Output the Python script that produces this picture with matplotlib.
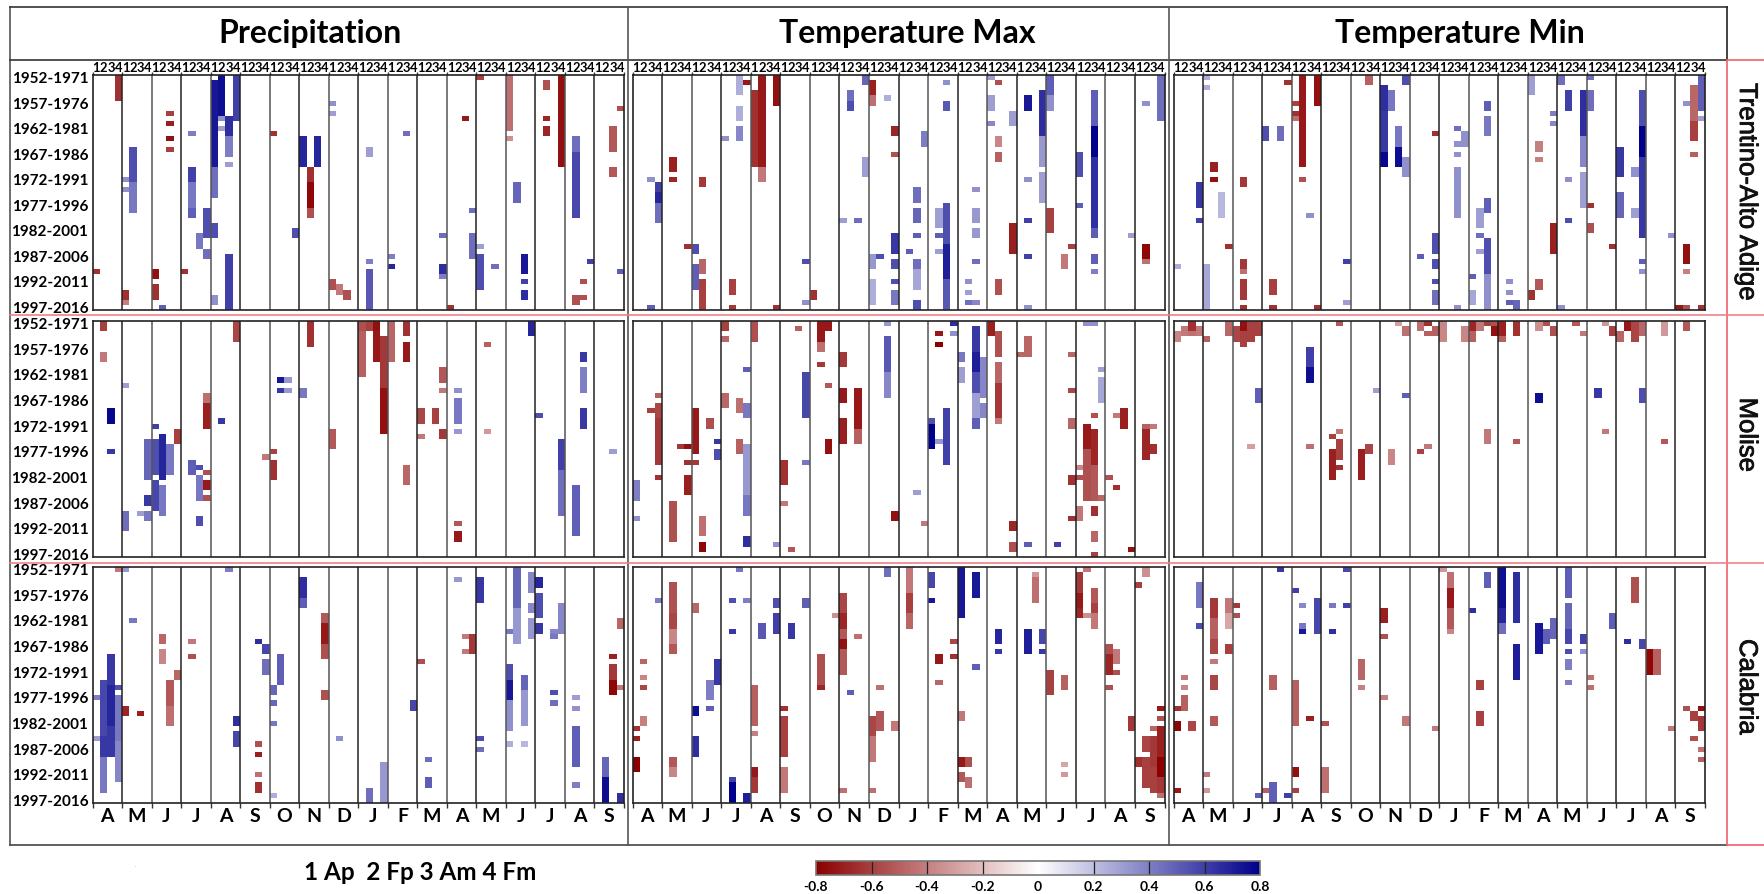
import numpy as np
import matplotlib
matplotlib.use("Agg")
import matplotlib.pyplot as plt
import matplotlib.patheffects as pe
from matplotlib.colors import LinearSegmentedColormap
from matplotlib.lines import Line2D

# each run: week column (0-71), first row, last row, correlation value
windows = ["1952-1971", "1957-1976", "1962-1981", "1967-1986", "1972-1991",
           "1977-1996", "1982-2001", "1987-2006", "1992-2011", "1997-2016"]
months = ["A", "M", "J", "J", "A", "S", "O", "N", "D", "J", "F", "M", "A", "M", "J", "J", "A", "S"]
variables = ["Precipitation", "Temperature Max", "Temperature Min"]
regions = ["Trentino-Alto Adige", "Molise", "Calabria"]
cbar_ticks = [-0.8, -0.6, -0.4, -0.2, 0, 0.2, 0.4, 0.6, 0.8]
cbar_labels = ["-0.8", "-0.6", "-0.4", "-0.2", "0", "0.2", "0.4", "0.6", "0.8"]

trentino_prec = [
    (3, 0, 4, -.65), (5, 14, 20, .55), (5, 21, 26, .42), (4, 20, 20, .35), (4, 22, 22, .35),
    (10, 7, 7, -.6), (10, 9, 9, -.7), (10, 12, 12, -.75), (10, 14, 14, -.6),
    (13, 11, 11, .4), (13, 18, 20, .6), (13, 21, 25, .42), (13, 26, 27, .5), (15, 26, 31, .55), (15, 34, 35, .45), (14, 31, 33, .42),
    (16, 1, 11, .72), (16, 12, 17, .72), (16, 18, 23, .45), (16, 29, 31, .55), (16, 43, 44, .35),
    (17, 0, 7, .75), (17, 8, 8, .35), (17, 10, 10, .3), (18, 8, 11, .65), (18, 12, 15, .4), (18, 17, 17, .3), (18, 35, 45, .6), (19, 0, 8, .6),
    (0, 38, 38, -.65), (8, 38, 39, -.75), (8, 41, 43, -.65), (12, 38, 38, -.65),
    (4, 42, 43, -.65), (4, 44, 44, -.4), (9, 45, 45, .5), (24, 11, 11, -.65), (27, 30, 31, .55),
    (28, 12, 17, .68), (30, 12, 17, .68), (29, 18, 20, -.65), (29, 21, 25, -.78), (29, 26, 27, -.55),
    (32, 5, 5, .35), (32, 7, 7, .3), (32, 40, 41, -.55), (33, 41, 42, -.42), (34, 42, 43, -.55),
    (37, 14, 15, .3), (37, 36, 36, .4), (37, 38, 45, .52), (40, 35, 35, .4), (40, 37, 37, .68), (42, 11, 11, .45),
    (47, 31, 31, .45), (47, 37, 38, .65), (47, 39, 39, .4), (48, 45, 45, -.65), (50, 8, 8, -.72),
    (51, 26, 26, .45), (51, 31, 35, .45), (52, 0, 0, -.6), (52, 33, 33, .3), (52, 35, 41, .55), (54, 37, 37, .45),
    (56, 0, 10, -.45), (56, 12, 12, -.35), (57, 21, 24, .48), (58, 35, 38, .72), (58, 40, 40, .6), (58, 42, 43, .65),
    (61, 1, 2, -.55), (61, 8, 8, -.68), (61, 10, 11, -.68), (63, 0, 17, -.75),
    (65, 12, 14, .45), (65, 15, 27, .58), (65, 43, 44, -.55), (66, 43, 43, -.55), (66, 40, 40, -.55), (67, 36, 36, .6),
    (71, 6, 6, -.55), (71, 38, 38, .5), (70, 10, 14, -.52), (70, 18, 19, -.52),
]
trentino_tmax = [
    (2, 20, 20, .35), (2, 45, 45, .5), (3, 21, 22, .6), (3, 23, 24, .68), (3, 25, 28, .45),
    (5, 16, 18, -.7), (5, 20, 20, -.68), (7, 33, 33, -.65), (8, 33, 34, .55), (8, 37, 41, .5),
    (9, 20, 21, -.62), (9, 36, 38, -.48), (9, 40, 45, -.6), (12, 12, 12, .35), (13, 40, 42, -.6), (13, 45, 45, -.62),
    (14, 0, 3, .25), (14, 6, 8, .25), (14, 10, 12, .38), (15, 1, 1, -.72), (16, 3, 17, -.65), (17, 0, 17, -.72), (17, 18, 20, -.42),
    (19, 0, 5, -.75), (19, 45, 45, -.65), (23, 36, 36, .55), (23, 44, 44, .35), (24, 42, 43, -.65), (28, 28, 28, .3),
    (29, 3, 4, .45), (29, 5, 6, .55), (30, 28, 28, .45), (31, 0, 1, .48), (31, 16, 19, .3),
    (32, 1, 3, -.7), (32, 4, 5, -.45), (32, 35, 37, .32), (32, 40, 44, .25), (33, 35, 35, .55), (34, 4, 4, .25),
    (35, 10, 11, -.68), (35, 15, 15, -.55), (35, 31, 34, .62), (35, 36, 37, .55), (35, 40, 40, .55), (35, 42, 44, .42),
    (37, 34, 34, .5), (38, 22, 24, .45), (38, 26, 28, .48), (38, 31, 31, .5), (38, 36, 37, .45), (38, 38, 41, .28), (38, 44, 45, .55),
    (39, 11, 13, .4), (41, 26, 29, .3), (41, 31, 31, .5), (41, 34, 34, .3), (42, 1, 1, .35), (42, 5, 6, .52),
    (42, 25, 32, .55), (42, 33, 39, .7), (42, 40, 45, .52), (45, 40, 40, .35), (45, 42, 42, .3), (45, 44, 44, .45),
    (46, 22, 22, .35), (46, 26, 28, .32), (46, 30, 31, .32), (46, 36, 36, .45), (46, 44, 44, .38),
    (48, 0, 0, .3), (48, 4, 6, .3), (48, 9, 9, .38), (49, 1, 1, -.55), (49, 12, 13, -.38), (49, 15, 16, -.5), (49, 40, 42, -.55),
    (51, 7, 9, .3), (51, 29, 34, -.7), (53, 4, 6, .72), (53, 20, 20, .35), (53, 28, 28, .6), (53, 35, 35, .6), (53, 45, 45, .35),
    (55, 3, 11, .65), (55, 12, 17, .32), (55, 19, 24, .3), (56, 0, 3, .5), (56, 4, 6, .35), (56, 26, 30, -.6),
    (58, 35, 37, -.42), (59, 33, 33, -.6), (60, 15, 19, .55), (60, 25, 25, .5),
    (62, 3, 9, .5), (62, 10, 15, .8), (62, 16, 29, .65), (62, 30, 31, .5), (62, 35, 36, .5), (62, 38, 38, .4),
    (67, 31, 31, .3), (69, 33, 35, -.78), (69, 36, 36, -.45), (69, 5, 5, .35), (71, 0, 8, .45),
]
trentino_tmin = [
    (0, 37, 37, .25), (3, 21, 25, .62), (3, 28, 28, .6), (4, 0, 0, .25), (4, 2, 2, .25), (4, 37, 45, .28),
    (5, 17, 18, -.7), (5, 20, 20, -.75), (6, 23, 27, .22), (7, 33, 33, -.65),
    (9, 20, 21, -.62), (9, 36, 37, -.62), (9, 38, 38, -.45), (9, 40, 43, -.62), (9, 45, 45, -.65),
    (12, 10, 12, .55), (13, 40, 42, -.6), (13, 45, 45, -.65), (14, 10, 12, .45), (15, 1, 1, -.65),
    (16, 5, 5, -.6), (16, 7, 7, -.65), (16, 8, 8, -.45), (17, 0, 17, -.72), (17, 20, 20, -.55), (18, 27, 27, .35), (19, 0, 5, -.75), (19, 45, 45, -.65),
    (23, 36, 36, .6), (23, 44, 44, .3), (26, 0, 1, -.5), (28, 2, 6, .65), (28, 7, 14, .62), (28, 15, 17, .78),
    (29, 3, 4, .42), (29, 5, 6, .42), (30, 10, 13, .42), (30, 14, 17, .75), (31, 0, 1, .55), (31, 16, 19, .35), (33, 35, 35, .5),
    (35, 11, 11, -.65), (35, 31, 34, .55), (35, 36, 37, .55), (35, 40, 40, .55), (35, 42, 44, .45),
    (38, 10, 10, .45), (38, 13, 13, .35), (38, 15, 15, .35), (38, 18, 27, .35), (38, 45, 45, .35), (39, 11, 13, .35),
    (40, 39, 39, .5), (40, 42, 44, .28), (41, 26, 29, .3), (41, 31, 31, .45), (41, 34, 34, .3),
    (42, 5, 6, .5), (42, 8, 11, .42), (42, 24, 26, .5), (42, 32, 38, .55), (42, 39, 45, .35),
    (45, 40, 40, .35), (45, 42, 42, .35), (45, 44, 44, .5), (46, 44, 45, .48),
    (48, 0, 3, .3), (48, 42, 43, -.65), (49, 13, 14, -.4), (49, 16, 16, -.4), (49, 40, 41, -.52),
    (51, 7, 7, .4), (51, 9, 9, .38), (51, 29, 34, -.7), (52, 0, 1, .45), (52, 45, 45, .35),
    (53, 3, 6, .6), (53, 20, 20, .35), (53, 28, 28, .55), (55, 3, 11, .65), (55, 12, 17, .38), (55, 19, 25, .3),
    (56, 0, 0, .45), (56, 3, 6, .45), (56, 25, 25, -.65), (56, 29, 30, -.55), (59, 33, 33, -.65),
    (60, 14, 19, .62), (60, 23, 27, .48), (62, 18, 19, .35), (62, 26, 27, .3),
    (63, 3, 9, .55), (63, 10, 15, .82), (63, 16, 31, .62), (63, 36, 36, .5), (63, 38, 38, .35), (67, 31, 31, .35),
    (68, 45, 45, -.72), (69, 5, 5, .35), (69, 33, 36, -.75), (69, 38, 38, -.4), (69, 45, 45, -.55),
    (70, 2, 8, -.48), (70, 9, 12, -.6), (70, 15, 15, -.5), (71, 0, 6, .5), (71, 8, 8, .3), (71, 45, 45, -.65),
]
molise_prec = [
    (1, 0, 1, -.6), (1, 6, 7, -.42), (2, 17, 19, .78), (2, 25, 25, .62), (4, 12, 12, .3), (4, 37, 40, .45),
    (6, 37, 37, .3), (7, 23, 30, .48), (7, 34, 35, .62), (7, 37, 38, .42), (8, 20, 20, .6), (8, 23, 29, .55), (8, 31, 36, .58),
    (9, 22, 30, .68), (9, 32, 37, .42), (10, 24, 29, .42), (11, 21, 23, -.6), (13, 27, 29, .5), (14, 28, 28, .55), (14, 30, 34, .42), (14, 38, 39, .55),
    (15, 14, 15, -.45), (15, 16, 20, -.7), (15, 29, 29, -.55), (15, 31, 32, -.72), (15, 34, 34, -.55), (17, 19, 19, .62), (19, 0, 3, -.58),
    (23, 26, 26, -.42), (24, 25, 25, -.6), (24, 27, 30, -.65), (25, 11, 11, .72), (25, 13, 13, .62), (26, 11, 11, .32), (26, 13, 13, .32),
    (28, 13, 14, .42), (29, 0, 4, -.65), (32, 21, 24, -.52), (36, 0, 1, -.55), (36, 2, 10, -.5),
    (37, 0, 1, -.6), (38, 0, 1, -.75), (38, 2, 7, -.72), (39, 3, 12, -.62), (39, 13, 21, -.75), (40, 0, 7, -.48),
    (42, 0, 2, -.65), (42, 4, 7, -.72), (42, 28, 31, -.48), (44, 17, 19, -.58), (44, 22, 22, -.42), (46, 17, 19, -.6), (47, 9, 11, -.52), (47, 13, 13, -.42), (47, 21, 22, -.62),
    (49, 13, 13, .35), (49, 15, 19, .42), (49, 21, 21, .32), (49, 39, 39, -.52), (49, 41, 42, -.72), (53, 4, 4, -.5), (53, 21, 21, -.32),
    (59, 0, 2, .68), (60, 18, 18, .55), (63, 23, 28, .6), (63, 29, 37, .45), (65, 32, 41, .5), (66, 6, 7, .62), (66, 9, 13, .4), (66, 17, 20, .62), (70, 25, 25, .3),
]
molise_tmax = [
    (0, 31, 34, .4), (0, 38, 38, .35), (3, 14, 14, -.5), (3, 16, 18, -.58), (3, 19, 27, -.62), (3, 30, 30, -.65), (2, 17, 17, -.6),
    (5, 35, 42, -.55), (6, 24, 24, -.62), (7, 24, 24, -.75), (7, 27, 27, -.65), (7, 30, 33, -.7), (8, 17, 25, -.72), (8, 27, 27, -.62),
    (9, 38, 41, -.45), (9, 43, 44, -.78), (10, 19, 20, -.55), (11, 23, 23, .62), (11, 25, 26, .55), (12, 0, 1, -.6), (12, 3, 3, -.48), (12, 14, 16, -.48),
    (14, 15, 17, -.45), (14, 23, 25, -.5), (15, 9, 9, .5), (15, 16, 18, .42), (15, 24, 33, .32), (15, 34, 37, .42), (15, 42, 43, .65),
    (16, 0, 3, -.55), (19, 43, 43, .35), (20, 27, 31, -.65), (20, 35, 35, -.42), (21, 44, 44, -.52), (22, 1, 1, -.5),
    (23, 10, 18, .58), (23, 27, 27, .42), (25, 0, 3, -.72), (25, 4, 5, -.45), (25, 8, 8, -.62), (26, 0, 1, -.72), (26, 12, 12, -.52), (26, 23, 25, -.75),
    (28, 6, 8, -.62), (28, 13, 15, -.72), (28, 19, 23, -.7), (30, 13, 20, -.72), (30, 21, 23, -.5),
    (34, 0, 0, .32), (34, 3, 9, .52), (34, 10, 14, .38), (35, 37, 38, -.75), (38, 33, 33, .3), (39, 39, 39, -.42),
    (40, 19, 19, .55), (40, 20, 24, .8), (41, 2, 2, -.72), (41, 4, 4, -.8), (41, 23, 23, .32),
    (42, 17, 27, .6), (43, 0, 0, .65), (43, 2, 2, .35), (44, 6, 7, .42), (44, 9, 11, .3),
    (46, 1, 5, .62), (46, 6, 9, .7), (46, 10, 13, .55), (46, 14, 18, .3), (46, 19, 20, .5), (47, 7, 14, .38), (47, 16, 18, .38),
    (48, 0, 2, -.7), (49, 2, 6, -.55), (49, 8, 11, -.48), (49, 12, 18, -.62), (49, 19, 19, -.42), (52, 6, 6, -.48), (53, 3, 6, -.48), (53, 43, 43, .5),
    (51, 39, 40, -.68), (51, 43, 44, -.55), (57, 43, 43, .6), (59, 6, 6, -.48), (59, 13, 13, -.58), (59, 19, 20, -.48), (59, 30, 31, -.65), (59, 38, 38, -.65),
    (60, 28, 28, -.38), (60, 30, 30, -.55), (60, 36, 38, -.42), (61, 0, 0, .35), (61, 20, 24, -.72), (61, 25, 34, -.55),
    (62, 0, 0, .35), (62, 18, 18, -.55), (62, 21, 27, -.68), (62, 28, 34, -.52), (62, 36, 37, -.65), (62, 41, 42, -.48), (62, 45, 45, -.6),
    (63, 9, 9, .3), (63, 11, 15, .28), (63, 34, 34, -.48), (64, 30, 30, -.55), (65, 18, 18, -.42), (65, 32, 32, -.65),
    (66, 17, 20, -.7), (67, 44, 44, -.75), (69, 20, 20, -.5), (69, 21, 26, -.68), (70, 20, 20, -.42), (70, 24, 25, -.65),
]
molise_tmin = [
    (0, 2, 3, -.38), (1, 1, 2, -.42), (2, 0, 1, -.65), (2, 2, 2, -.45), (3, 1, 2, -.42), (4, 3, 3, -.5),
    (7, 0, 2, -.48), (8, 1, 3, -.58), (9, 0, 1, -.75), (9, 2, 4, -.6), (10, 0, 3, -.6), (11, 0, 2, -.6),
    (11, 13, 15, .5), (10, 24, 24, -.3), (18, 5, 8, .6), (18, 9, 11, .75), (18, 24, 24, -.45),
    (21, 22, 22, -.6), (21, 25, 30, -.7), (22, 0, 0, -.52), (22, 21, 21, -.42), (22, 23, 26, -.6), (22, 28, 28, -.65),
    (25, 25, 30, -.7), (26, 24, 25, -.58), (27, 13, 13, .3), (29, 25, 27, -.38), (30, 0, 0, -.3),
    (31, 1, 2, -.45), (31, 14, 14, .5), (33, 0, 1, -.45), (33, 25, 25, -.6), (34, 0, 0, -.65), (34, 2, 2, -.5), (34, 24, 24, -.42),
    (35, 1, 2, -.5), (36, 0, 3, -.38), (39, 1, 3, -.38), (40, 0, 1, -.68), (40, 2, 3, -.5), (41, 0, 1, -.42),
    (42, 0, 0, -.6), (42, 21, 23, -.42), (43, 0, 0, -.55), (43, 1, 2, -.75), (44, 0, 2, -.7), (44, 3, 3, -.5),
    (46, 0, 2, -.65), (46, 23, 23, -.52), (49, 0, 1, -.35), (49, 14, 15, .75), (50, 0, 0, -.55), (51, 1, 2, -.55),
    (54, 0, 0, -.52), (55, 2, 2, -.42), (57, 13, 14, .62), (58, 0, 0, -.32), (58, 21, 21, -.42), (59, 1, 2, -.6), (60, 2, 3, -.48),
    (61, 0, 1, -.72), (62, 0, 3, -.58), (63, 0, 2, -.48), (63, 13, 15, .55), (66, 0, 2, -.32), (66, 23, 23, -.52), (69, 0, 1, -.52),
]
calabria_prec = [
    (0, 25, 25, .4), (0, 33, 33, .3), (1, 22, 32, .58), (1, 33, 36, .62), (1, 37, 43, .42), (2, 17, 22, .62), (2, 23, 30, .68), (2, 31, 36, .62),
    (3, 0, 0, -.42), (3, 23, 23, .55), (3, 25, 33, .42), (3, 34, 41, .38), (4, 0, 0, .32), (4, 27, 28, -.68), (5, 10, 10, .42), (6, 28, 28, -.7),
    (9, 13, 14, -.48), (9, 16, 18, -.38), (10, 22, 26, -.52), (10, 27, 30, -.45), (11, 20, 21, -.48), (13, 14, 14, -.42), (13, 17, 17, -.55), (18, 0, 0, .4),
    (19, 29, 30, .65), (19, 32, 34, .58), (22, 14, 14, .65), (22, 34, 34, -.55), (22, 36, 36, -.7), (22, 40, 40, -.45), (22, 42, 43, -.65),
    (23, 15, 16, .58), (23, 18, 20, .45), (24, 23, 24, .48), (24, 26, 26, .48), (24, 30, 30, .42), (24, 44, 44, .25), (25, 17, 22, .5),
    (28, 2, 5, .65), (28, 6, 7, .5), (31, 9, 10, -.52), (31, 11, 14, -.72), (31, 15, 17, -.55), (31, 24, 25, -.55), (33, 33, 33, .35),
    (37, 43, 45, .45), (39, 38, 45, .32), (43, 26, 27, .58), (44, 18, 18, -.55), (45, 37, 37, .45), (45, 41, 42, .5),
    (49, 2, 2, .32), (50, 13, 13, -.42), (50, 16, 16, -.42), (51, 13, 16, -.62), (52, 2, 6, .62), (52, 33, 33, .55), (52, 35, 35, .45),
    (56, 12, 12, .42), (56, 19, 21, .55), (56, 22, 25, .72), (56, 26, 31, .35), (56, 34, 34, .25), (57, 0, 7, .48), (57, 8, 14, .32), (58, 21, 23, .48), (58, 24, 30, .32), (58, 34, 34, .22),
    (59, 1, 4, .38), (59, 7, 8, .38), (59, 10, 13, .32), (60, 2, 3, .68), (60, 5, 9, .55), (60, 11, 12, .62),
    (62, 12, 12, .38), (62, 13, 13, .42), (62, 24, 24, .55), (62, 26, 26, .45), (63, 7, 12, .38),
    (65, 25, 25, .3), (65, 27, 27, .35), (65, 31, 38, .5), (65, 42, 42, .4), (69, 37, 40, .48), (69, 41, 45, .75),
    (70, 17, 17, -.7), (70, 19, 21, -.62), (70, 22, 24, -.78), (71, 10, 11, -.48), (71, 23, 23, -.42), (71, 44, 45, .65),
]
calabria_tmax = [
    (0, 31, 31, -.65), (0, 33, 33, -.7), (0, 37, 39, -.8), (1, 18, 18, -.48), (1, 21, 21, -.38), (1, 23, 23, -.58), (1, 29, 30, -.4), (3, 6, 6, .4),
    (5, 3, 8, -.55), (5, 9, 11, -.58), (5, 12, 14, -.38), (5, 15, 16, -.52), (5, 37, 38, -.52), (5, 39, 40, -.38),
    (8, 7, 8, -.48), (8, 27, 28, .75), (8, 33, 36, .65), (10, 22, 25, .4), (10, 27, 27, .5), (11, 18, 22, .62),
    (13, 6, 6, .55), (13, 12, 12, .62), (13, 41, 41, .6), (13, 42, 45, .8), (14, 0, 0, .42), (15, 6, 6, .4), (15, 44, 45, .7),
    (16, 23, 30, -.5), (16, 32, 32, -.4), (16, 39, 40, -.72), (16, 41, 43, -.62), (17, 11, 13, .52),
    (19, 6, 7, .55), (19, 9, 12, .6), (20, 27, 27, -.65), (20, 29, 36, -.6), (20, 39, 43, -.42), (21, 11, 13, .62), (23, 6, 7, .5),
    (25, 17, 22, -.55), (25, 23, 23, -.68), (27, 9, 9, -.35), (28, 5, 8, -.58), (28, 9, 11, -.68), (28, 12, 13, -.52), (28, 14, 15, -.75), (28, 16, 20, -.52), (28, 43, 43, -.45), (29, 24, 24, .5), (30, 13, 13, -.45),
    (32, 29, 32, -.58), (32, 33, 37, -.42), (32, 43, 43, -.45), (33, 23, 23, -.45), (33, 28, 31, -.52), (34, 0, 1, .45), (35, 30, 31, -.42),
    (37, 0, 4, -.42), (37, 5, 8, -.6), (37, 9, 11, -.48), (40, 1, 3, .58), (40, 6, 6, .72), (41, 17, 18, -.72), (41, 22, 22, -.48),
    (43, 14, 14, -.58), (43, 17, 17, -.65), (44, 0, 9, .72), (44, 28, 29, -.42), (44, 37, 38, -.72), (44, 40, 41, -.52), (45, 37, 38, -.55), (45, 41, 42, -.45),
    (46, 1, 5, .72), (46, 19, 19, .5), (49, 12, 14, .68), (49, 16, 16, .62), (53, 12, 16, .7), (54, 1, 1, -.32), (54, 2, 6, -.45),
    (55, 12, 14, .58), (55, 16, 16, .62), (56, 20, 24, -.6), (58, 21, 23, -.5), (58, 38, 38, -.28), (58, 40, 40, -.32),
    (60, 1, 4, -.62), (60, 5, 7, -.72), (60, 8, 9, -.68), (61, 0, 0, -.42), (61, 9, 9, -.35), (62, 4, 6, -.52), (62, 7, 8, -.6), (62, 9, 11, -.42),
    (64, 15, 16, -.55), (64, 17, 20, -.68), (64, 23, 23, -.55), (65, 16, 18, -.42), (65, 20, 20, -.55), (67, 29, 31, -.62),
    (68, 3, 3, -.6), (68, 37, 38, -.65), (69, 0, 1, -.35), (69, 33, 35, -.58), (69, 37, 42, -.6),
    (70, 31, 31, -.48), (70, 33, 38, -.62), (70, 39, 43, -.6), (71, 27, 27, -.72), (71, 29, 29, -.55), (71, 31, 36, -.7), (71, 37, 40, -.8), (71, 41, 43, -.62), (71, 44, 44, -.45),
]
calabria_tmin = [
    (0, 27, 27, -.65), (0, 30, 31, -.78), (0, 43, 43, -.72), (1, 21, 21, -.42), (1, 23, 23, -.38), (1, 25, 27, -.5), (2, 30, 31, -.58),
    (3, 3, 7, .42), (3, 11, 11, .55), (4, 40, 40, -.42), (4, 43, 43, -.32), (5, 6, 9, -.62), (5, 10, 13, -.5), (5, 14, 16, -.58), (5, 18, 18, -.42), (5, 21, 23, -.58), (5, 29, 30, -.52),
    (7, 6, 8, -.42), (7, 9, 11, -.28), (7, 15, 16, -.6), (8, 7, 7, -.62), (8, 9, 9, -.55), (11, 44, 44, .5), (12, 43, 43, -.5),
    (13, 21, 23, -.5), (13, 42, 45, .5), (14, 0, 0, .62), (15, 44, 44, .6), (16, 4, 4, .6), (16, 22, 30, -.5), (16, 39, 40, -.75), (16, 43, 43, -.6),
    (17, 7, 7, .38), (17, 11, 11, .42), (17, 12, 12, .72), (18, 29, 29, -.7), (19, 6, 12, .58), (20, 30, 30, -.55), (20, 39, 43, -.45),
    (21, 7, 7, .42), (21, 12, 12, .65), (23, 0, 0, .58), (23, 7, 7, .6), (25, 18, 21, -.48), (25, 23, 23, -.4),
    (28, 8, 10, -.7), (28, 13, 13, -.55), (28, 25, 25, -.4), (31, 29, 30, -.42), (35, 31, 31, -.42), (36, 0, 0, -.32),
    (37, 1, 3, -.45), (37, 4, 7, -.72), (37, 8, 11, -.52), (37, 12, 12, -.38), (40, 8, 8, .65), (41, 22, 23, -.6), (41, 28, 30, -.6), (42, 1, 3, .5),
    (44, 0, 7, .75), (44, 8, 10, .68), (44, 11, 12, .45), (46, 1, 10, .65), (46, 15, 21, .7), (49, 11, 16, .72), (50, 12, 14, .5), (51, 10, 13, .48),
    (53, 0, 5, .5), (53, 7, 11, .48), (53, 12, 14, .58), (53, 16, 16, .55), (53, 18, 19, .4), (53, 22, 22, .4), (55, 13, 14, .6), (55, 16, 16, .35),
    (56, 21, 21, -.45), (56, 23, 23, -.45), (59, 9, 11, .5), (61, 14, 14, .65), (62, 2, 6, -.55), (63, 14, 15, .58),
    (64, 16, 20, -.78), (65, 16, 20, -.5), (67, 31, 31, -.42), (69, 27, 27, -.55), (70, 28, 29, -.6), (70, 33, 33, -.55),
    (71, 27, 27, -.75), (71, 29, 31, -.62), (71, 35, 35, -.45), (71, 37, 37, -.5),
]

panels = [[trentino_prec, trentino_tmax, trentino_tmin],
          [molise_prec, molise_tmax, molise_tmin],
          [calabria_prec, calabria_tmax, calabria_tmin]]

W, H = 1764, 894
n_rows, n_cols = 46, 72


def box(x0, y0, x1, y1):
    # pixel box (y down) to figure fractions
    return [x0 / W, 1 - y1 / H, (x1 - x0) / W, (y1 - y0) / H]


def grid_from(runs):
    grid = np.full((n_rows, n_cols), np.nan)
    for col, r0, r1, val in runs:
        grid[r0:r1 + 1, col] = val
    return grid


cmap = LinearSegmentedColormap.from_list("rwb", ["#8b0000", "#ffffff", "#00008b"])
fig = plt.figure(figsize=(W / 100, H / 100), dpi=100)

x_spans = [(92.5, 624), (632.5, 1164.5), (1173.5, 1705)]
y_spans = [(75, 310), (321, 557), (567, 803)]

for i, (y0, y1) in enumerate(y_spans):
    for j, (x0, x1) in enumerate(x_spans):
        ax = fig.add_axes(box(x0, y0, x1, y1))
        mesh = ax.pcolormesh(np.arange(n_cols + 1), np.arange(n_rows + 1), grid_from(panels[i][j]),
                             cmap=cmap, vmin=-0.8, vmax=0.8)
        ax.set_xlim(0, n_cols)
        ax.set_ylim(n_rows, 0)
        for m in range(4, n_cols, 4):
            ax.axvline(m, color="#222222" if m % 8 else "#555555", lw=1.1)
        for s in ax.spines.values():
            s.set_linewidth(1.2)
            s.set_color("#222222")

        # month boundaries as ticks
        ax.set_xticks(np.arange(0, n_cols + 1, 4))
        ax.set_xticklabels([])
        ax.tick_params(axis="x", which="major", length=3.5, width=1, color="#333333")
        if i == 0:
            ax.tick_params(axis="x", which="major", top=True, bottom=False, length=2.5)
            top = ax.secondary_xaxis("top")
            top.set_xticks(np.arange(n_cols) + 0.5)
            top.set_xticklabels([str(k % 4 + 1) for k in range(n_cols)],
                                family="Lato", fontsize=9.4, fontweight="bold")
            top.tick_params(length=0, pad=0.5)
            top.spines["top"].set_visible(False)
        elif i == 1:
            ax.tick_params(axis="x", which="major", length=0)
        else:
            ax.set_xticks(np.arange(len(months)) * 4 + 2, minor=True)
            ax.set_xticklabels(months, minor=True, family="Lato", fontsize=14, fontweight="bold")
            ax.tick_params(axis="x", which="minor", length=0, pad=3.5)

        if j == 0:
            ax.set_yticks(np.arange(len(windows)) * 5 + 0.5)
            ax.set_yticklabels(windows, family="Lato", fontsize=11, fontweight="bold")
            ax.tick_params(axis="y", length=0, pad=3)
        else:
            ax.set_yticks([])

# frame lines around the table
frame = [
    ((10, 10), (7, 845), "#555555"), ((10, 1727), (7, 7), "#333333"), ((10, 1727), (60, 60), "#333333"),
    ((10, 1727), (845, 845), "#444444"), ((628, 628), (7, 845), "#555555"), ((1169, 1169), (7, 845), "#555555"),
    ((1727, 1727), (7, 60), "#222222"), ((1727, 1727), (60, 845), "#f0606a"), ((1727, 1764), (60, 60), "#f0606a"),
    ((1727, 1764), (845, 845), "#f0606a"), ((10, 1764), (315, 315), "#f0808a"), ((10, 1764), (562.5, 562.5), "#f0808a"),
]
for xs, ys, color in frame:
    fig.add_artist(Line2D([x / W for x in xs], [1 - y / H for y in ys], color=color, lw=1.2))

title_x = [310, 907, 1460]
for name, x in zip(variables, title_x):
    fig.text(x / W, 1 - 33 / H, name, family="Lato", fontsize=23, fontweight="bold", ha="center", va="center")

region_y = [192, 435, 687]
for name, y in zip(regions, region_y):
    fig.text(1747 / W, 1 - y / H, name, family="Liberation Sans", fontsize=18.5, rotation=-90,
             ha="center", va="center", color="#111111",
             path_effects=[pe.withStroke(linewidth=0.6, foreground="#111111")])

fig.text(420 / W, 1 - 872 / H, "1 Ap  2 Fp 3 Am 4 Fm", family="Lato", fontsize=17.5,
         fontweight="bold", ha="center", va="center")
fig.text(135 / W, 1 - 866 / H, ".", fontsize=3, ha="center", va="center", color="#444444")

cax = fig.add_axes(box(816, 861, 1260, 875))
cb = fig.colorbar(mesh, cax=cax, orientation="horizontal")
cb.set_ticks(cbar_ticks)
cb.set_ticklabels(cbar_labels, family="Lato", fontsize=10, fontweight="bold")
cb.ax.tick_params(length=0, pad=4)
cb.outline.set_edgecolor("#777777")
cb.outline.set_linewidth(1.2)
for t in cbar_ticks[1:-1]:
    if t != 0:
        cax.axvline(t, color="#222222", lw=0.9)

fig.savefig("out.png", dpi=100)
